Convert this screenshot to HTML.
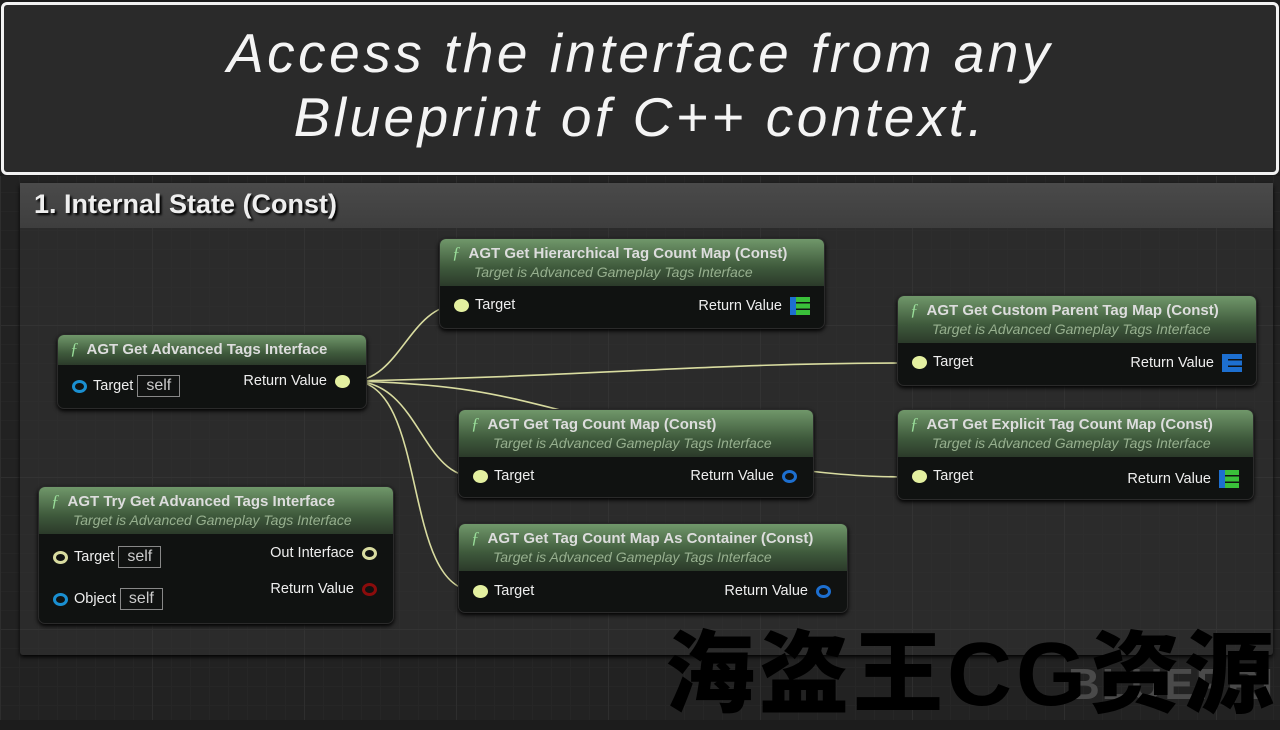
<!DOCTYPE html>
<html><head><meta charset="utf-8"><style>
*{margin:0;padding:0;box-sizing:border-box}
body{width:1280px;height:720px;overflow:hidden;background:#1c1c1c;font-family:"Liberation Sans",sans-serif;position:relative}
.grid{position:absolute;left:0;top:176px;width:1280px;height:544px;background-color:#222;
background-image:linear-gradient(#2e2e2e 1px,transparent 1px),linear-gradient(90deg,#2e2e2e 1px,transparent 1px),linear-gradient(#262626 1px,transparent 1px),linear-gradient(90deg,#262626 1px,transparent 1px);
background-size:152px 152px,152px 152px,19px 19px,19px 19px;background-position:0 -3px,0 0,0 -3px,0 0}
.title{position:absolute;left:1px;top:2px;width:1278px;height:173px;background:#2a2a2a;border:3px solid #f2f2f2;border-radius:6px;color:#f4f4f4;font-style:italic;font-size:55px;letter-spacing:3.5px;text-align:center;line-height:64px;padding-top:16px}
.comment{position:absolute;left:20px;top:183px;width:1253px;height:472px;background:rgba(60,60,60,.35);border-radius:3px;box-shadow:0 2px 4px #000}
.chead{height:45px;background:linear-gradient(#4a4a4a,#3e3e3e);color:#eee;font-weight:bold;font-size:27px;padding:6px 14px;text-shadow:2px 2px 2px #000}
.node{position:absolute;background:#101211;border-radius:7px;box-shadow:0 2px 4px #000;border:1px solid #2a2a2a;color:#eee;font-size:14.5px}
.nh{background:linear-gradient(#70976a,#3f5a3c 60%,#2b3a2a);border-radius:6px 6px 0 0;padding:4px 12px 6px;font-weight:bold;color:#ddd;font-size:15px;white-space:nowrap}
.nh i{color:#9d9;font-family:"Liberation Serif",serif;margin-right:8px;font-weight:normal;font-size:17px}
.nh .s{display:block;font-weight:normal;font-style:italic;color:#97b08f;font-size:14px;margin-left:22px;margin-top:1px}
.p{position:absolute;white-space:nowrap}
.pin{display:inline-block;width:15px;height:13px;border-radius:50%;vertical-align:middle;margin-right:6px}
.box{display:inline-block;border:1px solid #888;padding:0 8px;font-size:16px;color:#ccc;margin-left:4px;height:22px;line-height:20px}
svg{position:absolute;left:0;top:0}
</style></head><body>
<div class="grid"></div>
<div class="title">Access the interface from any<br>Blueprint of C++ context.</div>
<div class="comment"><div class="chead">1. Internal State (Const)</div></div>
<svg width="1280" height="720"><g fill="none" stroke="#d9dca0" stroke-width="1.6">
<path d="M352 381 C400 381,410 305,458 305"/>
<path d="M352 381 C600 376,700 363,914 363"/>
<path d="M352 381 C420 381,420 477,476 477"/>
<path d="M352 381 C460 384,500 395,560 410 M800 470 C850 476,880 477,914 477"/>
<path d="M352 381 C430 381,400 591,476 591"/>
</g></svg>

<div class="node" style="left:57px;top:334px;width:310px;height:75px"><div class="nh"><i>ƒ</i>AGT Get Advanced Tags Interface</div>
<div class="p" style="left:14px;top:40px"><span class="pin" style="border:3px solid #1a8fd1"></span>Target<span class="box">self</span></div>
<div class="p" style="right:16px;top:38px">Return Value <span class="pin" style="background:#e4f0a0;margin:0 0 0 4px"></span></div></div>

<div class="node" style="left:439px;top:238px;width:386px;height:91px"><div class="nh"><i>ƒ</i>AGT Get Hierarchical Tag Count Map (Const)<span class="s">Target is Advanced Gameplay Tags Interface</span></div>
<div class="p" style="left:14px;top:58px"><span class="pin" style="background:#e4f0a0"></span>Target</div>
<div class="p" style="right:14px;top:58px">Return Value <span style="display:inline-block;vertical-align:middle;width:20px;height:18px;background:repeating-linear-gradient(#3ac03a 0 5px,transparent 5px 6.5px);border-left:6px solid #1d6fd0;margin-left:4px"></span></div></div>

<div class="node" style="left:897px;top:295px;width:360px;height:91px"><div class="nh"><i>ƒ</i>AGT Get Custom Parent Tag Map (Const)<span class="s">Target is Advanced Gameplay Tags Interface</span></div>
<div class="p" style="left:14px;top:58px"><span class="pin" style="background:#e4f0a0"></span>Target</div>
<div class="p" style="right:14px;top:58px">Return Value <span style="display:inline-block;vertical-align:middle;width:20px;height:18px;background:repeating-linear-gradient(#1d6fd0 0 5px,transparent 5px 6.5px);border-left:6px solid #1d6fd0;margin-left:4px"></span></div></div>

<div class="node" style="left:458px;top:409px;width:356px;height:89px"><div class="nh"><i>ƒ</i>AGT Get Tag Count Map (Const)<span class="s">Target is Advanced Gameplay Tags Interface</span></div>
<div class="p" style="left:14px;top:58px"><span class="pin" style="background:#e4f0a0"></span>Target</div>
<div class="p" style="right:16px;top:58px">Return Value <span class="pin" style="border:3px solid #1d6fd0;margin:0 0 0 4px"></span></div></div>

<div class="node" style="left:897px;top:409px;width:357px;height:91px"><div class="nh"><i>ƒ</i>AGT Get Explicit Tag Count Map (Const)<span class="s">Target is Advanced Gameplay Tags Interface</span></div>
<div class="p" style="left:14px;top:58px"><span class="pin" style="background:#e4f0a0"></span>Target</div>
<div class="p" style="right:14px;top:60px">Return Value <span style="display:inline-block;vertical-align:middle;width:20px;height:18px;background:repeating-linear-gradient(#3ac03a 0 5px,transparent 5px 6.5px);border-left:6px solid #1d6fd0;margin-left:4px"></span></div></div>

<div class="node" style="left:458px;top:523px;width:390px;height:90px"><div class="nh"><i>ƒ</i>AGT Get Tag Count Map As Container (Const)<span class="s">Target is Advanced Gameplay Tags Interface</span></div>
<div class="p" style="left:14px;top:59px"><span class="pin" style="background:#e4f0a0"></span>Target</div>
<div class="p" style="right:16px;top:59px">Return Value <span class="pin" style="border:3px solid #1d6fd0;margin:0 0 0 4px"></span></div></div>

<div class="node" style="left:38px;top:486px;width:356px;height:138px"><div class="nh"><i>ƒ</i>AGT Try Get Advanced Tags Interface<span class="s">Target is Advanced Gameplay Tags Interface</span></div>
<div class="p" style="left:14px;top:59px"><span class="pin" style="border:3px solid #d9dca0"></span>Target<span class="box">self</span></div>
<div class="p" style="left:14px;top:101px"><span class="pin" style="border:3px solid #1a8fd1"></span>Object<span class="box">self</span></div>
<div class="p" style="right:16px;top:58px">Out Interface <span class="pin" style="border:3px solid #d9dca0;margin:0 0 0 4px"></span></div>
<div class="p" style="right:16px;top:94px">Return Value <span class="pin" style="border:3px solid #8a0c0c;margin:0 0 0 4px"></span></div></div>

<div class="p" style="left:1068px;top:660px;font-size:44px;font-weight:bold;color:#4a4a4a;letter-spacing:2px">BLUEPRI</div>
<div class="p" style="left:665px;top:620px;font-size:90px;font-weight:900;color:#000;font-family:'Liberation Sans','Noto Sans CJK SC',sans-serif;line-height:110px;letter-spacing:4px">海盗王CG资源</div>
</body></html>
